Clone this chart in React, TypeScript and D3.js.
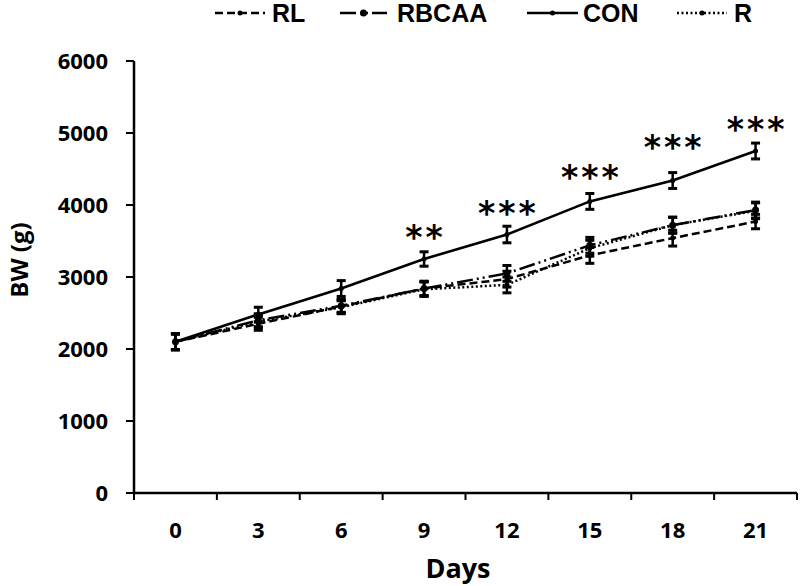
import React from "react";
import * as d3 from "d3";

const days = ["0", "3", "6", "9", "12", "15", "18", "21"];
const conValues = [2100, 2480, 2840, 3250, 3590, 4050, 4340, 4750];
const conErr = [110, 100, 110, 100, 115, 110, 110, 110];
const rlValues = [2100, 2350, 2590, 2840, 2970, 3300, 3540, 3770];
const rlErr = [110, 90, 90, 100, 110, 110, 110, 100];
const rbcaaValues = [2100, 2400, 2600, 2840, 3050, 3440, 3720, 3930];
const rbcaaErr = [110, 90, 90, 100, 110, 110, 110, 110];
const rValues = [2100, 2380, 2580, 2830, 2890, 3400, 3720, 3920];
const rErr = [110, 90, 90, 100, 110, 110, 110, 110];
const yTicks = [0, 1000, 2000, 3000, 4000, 5000, 6000];
const stars = ["", "", "", "**", "***", "***", "***", "***"];
const starLevels = [0, 0, 0, 3650, 3990, 4490, 4900, 5150];
const legendNames = ["RL", "RBCAA", "CON", "R"];

const W = 800;
const H = 586;
const left = 134;
const right = 797;
const top = 61;
const bottom = 493;

type Series = { name: string; values: number[]; err: number[]; dash: string; width: number; r: number };

const series: Series[] = [
  { name: "RL", values: rlValues, err: rlErr, dash: "8,4", width: 2.5, r: 2.5 },
  { name: "RBCAA", values: rbcaaValues, err: rbcaaErr, dash: "16,4,2,4,2,4", width: 2.5, r: 3.5 },
  { name: "CON", values: conValues, err: conErr, dash: "", width: 2.6, r: 2.5 },
  { name: "R", values: rValues, err: rErr, dash: "2,2.5", width: 2.5, r: 2.5 },
];

export default function App() {
  const x = d3.scaleBand<string>().domain(days).range([left, right]);
  const y = d3.scaleLinear().domain([0, 6000]).range([bottom, top]);
  const cx = (d: string) => (x(d) as number) + x.bandwidth() / 2;
  const line = d3
    .line<number>()
    .x((_, i) => cx(days[i]))
    .y((v) => y(v));

  const axisFont = "'Open Sans', Lato, sans-serif";
  const legendFont = "'Liberation Sans', Arial, sans-serif";
  const starFont = "'DejaVu Sans', sans-serif";

  const legendPos = [
    { x1: 215, x2: 265, tx: 272 },
    { x1: 340, x2: 387, tx: 397 },
    { x1: 527, x2: 578, tx: 583 },
    { x1: 677, x2: 727, tx: 734 },
  ];

  return (
    <svg width={W} height={H} style={{ position: "absolute", left: 0, top: 0, background: "#fff" }}>
      <rect width={W} height={H} fill="#fff" />
      {/* axes */}
      <line x1={left} x2={left} y1={top} y2={bottom} stroke="#000" strokeWidth={2.5} />
      <line x1={left} x2={right} y1={bottom} y2={bottom} stroke="#000" strokeWidth={2.5} />
      {yTicks.map((t) => (
        <g key={t}>
          <line x1={left - 8} x2={left} y1={y(t)} y2={y(t)} stroke="#000" strokeWidth={2} />
          <text
            x={108}
            y={y(t) + 8}
            textAnchor="end"
            fontFamily={axisFont}
            fontWeight={700}
            fontSize={22}
          >
            {t}
          </text>
        </g>
      ))}
      {[...days.map((d) => x(d) as number), right].map((v, i) => (
        <line key={i} x1={v} x2={v} y1={bottom} y2={bottom + 7} stroke="#000" strokeWidth={2} />
      ))}
      {days.map((d) => (
        <text
          key={d}
          x={cx(d)}
          y={538}
          textAnchor="middle"
          fontFamily={axisFont}
          fontWeight={700}
          fontSize={22}
        >
          {d}
        </text>
      ))}
      <text x={458} y={578} textAnchor="middle" fontFamily={axisFont} fontWeight={700} fontSize={27}>
        Days
      </text>
      <text
        transform={`translate(28,260) rotate(-90)`}
        textAnchor="middle"
        fontFamily={axisFont}
        fontWeight={700}
        fontSize={24}
      >
        BW (g)
      </text>

      {/* series */}
      {series.map((s) => (
        <g key={s.name}>
          <path
            d={line(s.values) as string}
            fill="none"
            stroke="#000"
            strokeWidth={s.width}
            strokeDasharray={s.dash || undefined}
          />
          {s.values.map((v, i) => {
            const px = cx(days[i]);
            const y1 = y(v + s.err[i]);
            const y2 = y(v - s.err[i]);
            return (
              <g key={i}>
                <line x1={px} x2={px} y1={y1} y2={y2} stroke="#000" strokeWidth={2.5} />
                <line x1={px - 4.5} x2={px + 4.5} y1={y1} y2={y1} stroke="#000" strokeWidth={3} />
                <line x1={px - 4.5} x2={px + 4.5} y1={y2} y2={y2} stroke="#000" strokeWidth={3} />
                <circle cx={px} cy={y(v)} r={s.r} fill="#000" />
              </g>
            );
          })}
        </g>
      ))}

      {/* significance stars */}
      {days.map((d, i) =>
        stars[i] ? (
          <text
            key={d}
            x={cx(d) + 1.5}
            y={y(starLevels[i]) + 19}
            textAnchor="middle"
            fontFamily={starFont}
            fontWeight={700}
            fontSize={33}
            letterSpacing={3}
          >
            {stars[i]}
          </text>
        ) : null
      )}

      {/* legend */}
      {series.map((s, i) => {
        const p = legendPos[i];
        return (
          <g key={s.name}>
            <line
              x1={p.x1}
              x2={p.x2}
              y1={13}
              y2={13}
              stroke="#000"
              strokeWidth={2.5}
              strokeDasharray={s.dash || undefined}
            />
            <circle cx={(p.x1 + p.x2) / 2} cy={13} r={s.r} fill="#000" />
            <text x={p.tx} y={22} fontFamily={legendFont} fontWeight={700} fontSize={25}>
              {legendNames[i]}
            </text>
          </g>
        );
      })}
    </svg>
  );
}
